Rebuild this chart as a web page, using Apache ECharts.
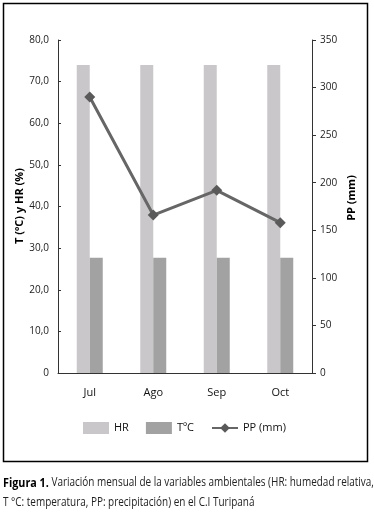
<!DOCTYPE html>
<html><head><meta charset="utf-8">
<script src="https://cdn.jsdelivr.net/npm/echarts@6/dist/echarts.min.js"></script>
<style>html,body{margin:0;padding:0;background:#fff}#c{width:374px;height:517px}</style>
</head><body><div id="c"></div>
<script>
var categories = ['Jul', 'Ago', 'Sep', 'Oct'];
var hrValues = [74, 74, 74, 74];
var tValues = [27.7, 27.7, 27.7, 27.7];
var ppValues = [290, 166, 192, 158];
var leftTicks = [0, 10, 20, 30, 40, 50, 60, 70, 80];
var rightTicks = [0, 50, 100, 150, 200, 250, 300, 350];

var chart = echarts.init(document.getElementById('c'));
var F = '"Open Sans", "Noto Sans", sans-serif';
chart.setOption({
  animation: false,
  textStyle: {fontFamily: F},
  grid: {left: 58, right: 62, top: 40, bottom: 144},
  legend: {
    left: 78, top: 417, itemWidth: 26, itemHeight: 12, itemGap: 17,
    textStyle: {fontSize: 11, color: '#111', fontFamily: F},
    data: [{name: 'HR', icon: 'rect'}, {name: 'T\u00baC', icon: 'rect'}, {name: 'PP (mm)'}]
  },
  xAxis: {
    type: 'category', data: categories,
    axisLine: {lineStyle: {color: '#333', width: 1}},
    axisTick: {show: false},
    axisLabel: {fontSize: 11, color: '#111', margin: 14}
  },
  yAxis: [{
    type: 'value', min: leftTicks[0], max: leftTicks[leftTicks.length - 1], interval: 10,
    splitLine: {show: false},
    axisLine: {show: true, lineStyle: {color: '#333'}},
    axisTick: {show: true, inside: true, length: 3, lineStyle: {color: '#333'}},
    axisLabel: {fontSize: 10, color: '#222', margin: 9,
      formatter: function (v) { return v === 0 ? '0' : v.toFixed(1).replace('.', ','); }}
  }, {
    type: 'value', min: rightTicks[0], max: rightTicks[rightTicks.length - 1], interval: 50,
    splitLine: {show: false},
    axisLine: {show: true, lineStyle: {color: '#333'}},
    axisTick: {show: true, length: 4, lineStyle: {color: '#333'}},
    axisLabel: {fontSize: 10, color: '#222', margin: 8}
  }],
  series: [{
    name: 'HR', type: 'bar', data: hrValues, barWidth: 13, barGap: '0%',
    itemStyle: {color: '#cac7ca'}
  }, {
    name: 'T\u00baC', type: 'bar', data: tValues, barWidth: 13, barGap: '0%',
    itemStyle: {color: '#a2a2a2'}
  }, {
    name: 'PP (mm)', type: 'line', yAxisIndex: 1, data: ppValues,
    symbol: 'diamond', symbolSize: 11,
    lineStyle: {color: '#666', width: 3},
    itemStyle: {color: '#5a5a5a'}
  }],
  graphic: [
    {type: 'rect', shape: {x: 3.5, y: 3.5, width: 364, height: 458}, style: {fill: 'none', stroke: '#000', lineWidth: 1.5}, silent: true},
    {type: 'text', x: 20, y: 206, rotation: Math.PI / 2, style: {text: 'T (\u00baC) y HR (%)', font: 'bold 11px ' + F, fill: '#000', textAlign: 'center', textVerticalAlign: 'middle'}},
    {type: 'text', x: 352, y: 198, rotation: Math.PI / 2, style: {text: 'PP (mm)', font: 'bold 11px ' + F, fill: '#000', textAlign: 'center', textVerticalAlign: 'middle'}},
    {type: 'text', x: 3, y: 493, scaleX: 0.83, style: {
      text: '{b|Figura 1.} Variación mensual de la variables ambientales (HR: humedad relativa,\nT °C: temperatura, PP: precipitación) en el C.I Turipaná',
      font: '12px ' + F, fill: '#222', lineHeight: 20, textVerticalAlign: 'middle',
      rich: {b: {fontWeight: 'bold', fontSize: 13, fontFamily: F, fill: '#000'}}
    }}
  ]
});
</script></body></html>
